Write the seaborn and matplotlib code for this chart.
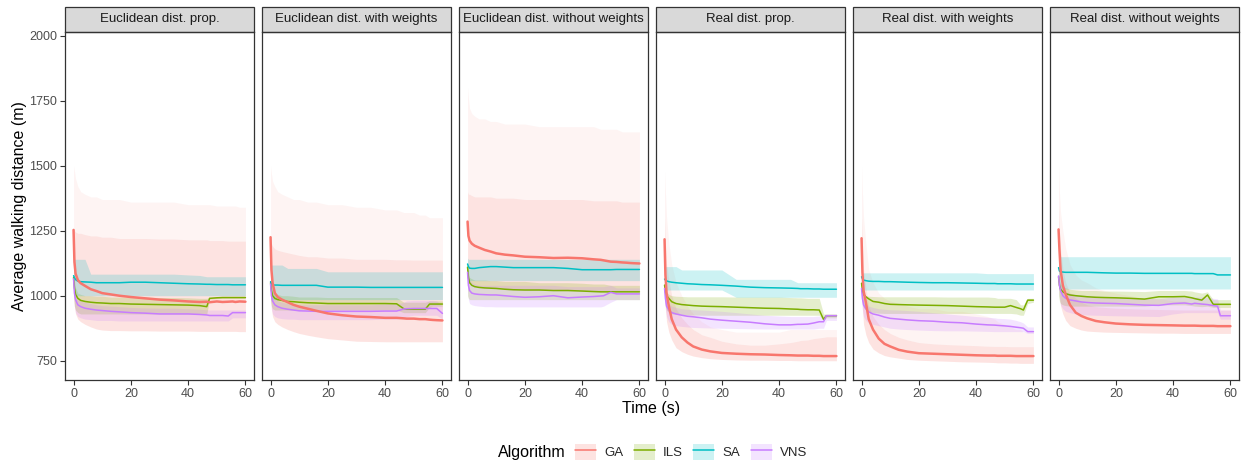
import matplotlib
matplotlib.use("Agg")
import numpy as np
import pandas as pd
import seaborn as sns
import matplotlib.pyplot as plt
from matplotlib.patches import Rectangle, Patch
from matplotlib.lines import Line2D

# ---------------- data ----------------
time_s = [0, 0.3, 0.7, 1.5, 2.5, 4, 6, 8, 10, 13, 16, 20, 25, 30, 35, 40, 44, 46.5, 47.5, 50, 52, 54, 55.5, 56.5, 58, 60]

panels = ["Euclidean dist. prop.", "Euclidean dist. with weights", "Euclidean dist. without weights",
          "Real dist. prop.", "Real dist. with weights", "Real dist. without weights"]
algorithms = ["GA", "ILS", "SA", "VNS"]
colors = ["#F8766D", "#7CAE00", "#00BFC4", "#C77CFF"]

# --- Euclidean dist. prop.
ep_ga = [1253, 1130, 1085, 1060, 1048, 1038, 1025, 1018, 1010, 1005, 1000, 995, 990, 985, 982, 978, 976, 977, 975, 978, 976, 977, 978, 976, 978, 977]
ep_ga_lo = [1000, 960, 930, 910, 900, 890, 880, 872, 868, 866, 866, 865, 865, 864, 864, 864, 863, 863, 863, 863, 863, 863, 863, 863, 862, 862]
ep_ga_hi = [1260, 1250, 1245, 1240, 1240, 1235, 1230, 1230, 1225, 1225, 1220, 1220, 1220, 1218, 1218, 1215, 1215, 1215, 1212, 1212, 1212, 1210, 1210, 1210, 1210, 1210]
ep_ga_top = [1500, 1480, 1450, 1420, 1400, 1390, 1380, 1380, 1370, 1370, 1370, 1360, 1360, 1360, 1360, 1350, 1350, 1350, 1350, 1345, 1345, 1345, 1345, 1345, 1340, 1340]
ep_ils = [1070, 1030, 1005, 990, 982, 978, 975, 973, 972, 970, 970, 968, 967, 966, 965, 964, 962, 958, 990, 992, 993, 993, 993, 993, 993, 993]
ep_ils_lo = [1000, 960, 945, 935, 930, 930, 930, 930, 930, 930, 930, 930, 930, 930, 930, 930, 930, 930, 987, 989, 990, 990, 990, 990, 990, 990]
ep_ils_hi = [1100, 1060, 1030, 1010, 1005, 1000, 1000, 998, 998, 995, 995, 995, 995, 993, 993, 992, 990, 990, 993, 995, 996, 996, 996, 996, 996, 996]
ep_sa = [1077, 1070, 1062, 1056, 1054, 1053, 1052, 1050, 1050, 1050, 1050, 1052, 1052, 1050, 1048, 1046, 1045, 1044, 1044, 1043, 1043, 1043, 1042, 1042, 1042, 1042]
ep_sa_lo = [1005, 1002, 1000, 1000, 1000, 1000, 1000, 1000, 1000, 1000, 1000, 1000, 1000, 1000, 1000, 1000, 1000, 1000, 1000, 1000, 1000, 1000, 1000, 1000, 1000, 1000]
ep_sa_hi = [1140, 1140, 1140, 1140, 1140, 1140, 1083, 1083, 1083, 1083, 1083, 1083, 1083, 1083, 1083, 1080, 1078, 1073, 1073, 1073, 1073, 1073, 1073, 1073, 1073, 1073]
ep_vns = [1065, 1010, 985, 965, 958, 952, 948, 945, 943, 940, 938, 935, 933, 930, 930, 930, 928, 926, 924, 924, 924, 922, 935, 935, 935, 935]
ep_vns_lo = [1020, 960, 935, 920, 915, 910, 908, 905, 905, 905, 903, 903, 903, 903, 903, 903, 903, 903, 903, 903, 903, 903, 915, 915, 915, 915]
ep_vns_hi = [1090, 1040, 1010, 990, 980, 975, 970, 965, 962, 960, 958, 955, 953, 952, 952, 950, 948, 946, 945, 945, 945, 945, 945, 945, 945, 945]

# --- Euclidean dist. with weights
ew_ga = [1225, 1100, 1050, 1010, 995, 985, 975, 965, 958, 950, 942, 932, 925, 920, 918, 915, 915, 913, 912, 912, 910, 910, 908, 907, 906, 905]
ew_ga_lo = [1000, 950, 920, 900, 890, 880, 870, 862, 855, 848, 842, 835, 830, 825, 824, 823, 823, 823, 823, 823, 823, 823, 823, 823, 823, 823]
ew_ga_hi = [1230, 1200, 1190, 1180, 1175, 1170, 1165, 1160, 1155, 1150, 1150, 1145, 1145, 1140, 1140, 1140, 1138, 1138, 1138, 1137, 1137, 1137, 1137, 1137, 1137, 1137]
ew_ga_top = [1500, 1470, 1440, 1420, 1400, 1390, 1380, 1370, 1370, 1360, 1360, 1350, 1350, 1340, 1340, 1330, 1330, 1320, 1320, 1320, 1310, 1310, 1300, 1300, 1300, 1300]
ew_ils = [1050, 1020, 1000, 990, 985, 982, 978, 977, 975, 973, 972, 970, 970, 970, 970, 970, 969, 950, 948, 948, 948, 948, 968, 968, 968, 968]
ew_ils_lo = [980, 960, 950, 945, 945, 945, 945, 945, 945, 945, 945, 945, 945, 945, 945, 945, 945, 935, 935, 935, 935, 935, 955, 960, 960, 960]
ew_ils_hi = [1080, 1050, 1030, 1010, 1005, 1000, 1000, 998, 995, 995, 995, 993, 993, 993, 993, 993, 993, 975, 975, 975, 975, 975, 980, 980, 980, 980]
ew_sa = [1054, 1045, 1041, 1041, 1041, 1040, 1040, 1040, 1040, 1040, 1040, 1033, 1033, 1033, 1032, 1032, 1032, 1032, 1032, 1032, 1032, 1032, 1032, 1032, 1032, 1032]
ew_sa_lo = [985, 985, 985, 985, 985, 985, 985, 985, 985, 985, 985, 985, 985, 985, 985, 985, 985, 985, 985, 985, 985, 985, 985, 985, 985, 985]
ew_sa_hi = [1118, 1118, 1118, 1118, 1118, 1118, 1105, 1105, 1105, 1105, 1105, 1092, 1092, 1092, 1092, 1092, 1092, 1092, 1092, 1092, 1092, 1092, 1092, 1092, 1092, 1092]
ew_vns = [1045, 1000, 980, 965, 958, 952, 948, 945, 942, 941, 940, 940, 940, 940, 940, 941, 941, 949, 950, 951, 951, 951, 951, 951, 951, 932]
ew_vns_lo = [1000, 950, 930, 920, 915, 912, 910, 910, 908, 908, 908, 908, 908, 908, 908, 910, 910, 915, 920, 925, 925, 925, 925, 925, 925, 910]
ew_vns_hi = [1080, 1040, 1010, 990, 980, 975, 970, 968, 965, 965, 965, 965, 965, 965, 965, 968, 968, 975, 980, 982, 982, 982, 982, 982, 980, 960]

# --- Euclidean dist. without weights
eo_ga = [1285, 1230, 1212, 1200, 1192, 1185, 1176, 1170, 1163, 1158, 1155, 1150, 1148, 1145, 1146, 1144, 1140, 1138, 1136, 1131, 1130, 1128, 1127, 1126, 1125, 1124]
eo_ga_lo = [1080, 1060, 1050, 1045, 1040, 1035, 1032, 1030, 1030, 1028, 1027, 1025, 1025, 1022, 1022, 1020, 1020, 1020, 1020, 1018, 1018, 1017, 1017, 1016, 1016, 1015]
eo_ga_hi = [1400, 1390, 1390, 1385, 1380, 1380, 1380, 1380, 1375, 1375, 1375, 1370, 1370, 1370, 1370, 1370, 1365, 1365, 1365, 1365, 1365, 1360, 1360, 1360, 1360, 1360]
eo_ga_top = [1800, 1760, 1720, 1700, 1690, 1680, 1680, 1670, 1670, 1660, 1660, 1660, 1650, 1650, 1650, 1650, 1650, 1640, 1640, 1640, 1640, 1630, 1630, 1630, 1630, 1630]
eo_ils = [1110, 1070, 1050, 1040, 1035, 1032, 1030, 1029, 1028, 1025, 1023, 1022, 1022, 1020, 1020, 1018, 1016, 1015, 1015, 1015, 1015, 1015, 1015, 1015, 1015, 1015]
eo_ils_lo = [1000, 990, 985, 985, 985, 985, 985, 985, 985, 985, 985, 985, 985, 985, 985, 985, 985, 985, 985, 985, 985, 985, 985, 985, 985, 985]
eo_ils_hi = [1120, 1090, 1070, 1065, 1060, 1060, 1060, 1058, 1058, 1055, 1055, 1055, 1050, 1050, 1050, 1048, 1045, 1045, 1045, 1040, 1040, 1040, 1040, 1040, 1040, 1040]
eo_sa = [1122, 1112, 1106, 1105, 1105, 1108, 1110, 1112, 1112, 1110, 1108, 1108, 1108, 1108, 1105, 1100, 1100, 1100, 1100, 1100, 1101, 1101, 1101, 1101, 1101, 1101]
eo_sa_lo = [1058, 1058, 1058, 1058, 1058, 1058, 1058, 1058, 1058, 1058, 1058, 1058, 1058, 1058, 1058, 1058, 1058, 1058, 1058, 1058, 1058, 1058, 1058, 1058, 1058, 1058]
eo_sa_hi = [1145, 1140, 1140, 1140, 1140, 1140, 1140, 1140, 1140, 1140, 1140, 1140, 1140, 1140, 1140, 1140, 1140, 1140, 1140, 1140, 1140, 1140, 1140, 1140, 1140, 1140]
eo_vns = [1090, 1040, 1020, 1010, 1007, 1005, 1004, 1003, 1003, 1000, 997, 994, 996, 1000, 992, 995, 997, 999, 1000, 1013, 1007, 1007, 1007, 1007, 1007, 1007]
eo_vns_lo = [1020, 985, 970, 965, 962, 960, 958, 958, 957, 957, 957, 957, 957, 957, 957, 957, 957, 957, 960, 975, 985, 985, 985, 985, 985, 985]
eo_vns_hi = [1120, 1080, 1060, 1050, 1045, 1040, 1040, 1040, 1040, 1040, 1040, 1040, 1040, 1040, 1035, 1035, 1035, 1035, 1035, 1040, 1030, 1030, 1030, 1030, 1030, 1030]

# --- Real dist. prop.
rp_ga = [1217, 1080, 1010, 960, 910, 870, 840, 820, 805, 793, 786, 780, 777, 775, 774, 772, 771, 770, 770, 770, 769, 769, 768, 768, 768, 768]
rp_ga_lo = [1050, 950, 900, 860, 830, 800, 785, 775, 768, 762, 758, 755, 753, 752, 752, 751, 751, 750, 750, 750, 750, 750, 750, 750, 750, 750]
rp_ga_hi = [1300, 1200, 1120, 1060, 1000, 950, 915, 890, 870, 850, 840, 825, 815, 810, 810, 815, 820, 825, 828, 830, 835, 838, 840, 842, 842, 842]
rp_ga_top = [1480, 1400, 1300, 1200, 1120, 1050, 1000, 960, 930, 900, 880, 870, 860, 860, 860, 860, 870, 870, 870, 870, 870, 870, 870, 870, 870, 870]
rp_ils = [1041, 1015, 1000, 990, 977, 970, 966, 964, 962, 960, 959, 958, 956, 954, 952, 951, 949, 948, 947, 946, 946, 945, 909, 923, 923, 923]
rp_ils_lo = [990, 960, 945, 935, 930, 928, 927, 926, 926, 925, 925, 925, 925, 925, 925, 925, 925, 925, 925, 925, 925, 925, 905, 915, 915, 915]
rp_ils_hi = [1060, 1030, 1015, 1005, 1000, 998, 997, 996, 996, 996, 996, 996, 995, 995, 995, 995, 993, 992, 992, 990, 990, 990, 930, 930, 930, 930]
rp_sa = [1064, 1060, 1057, 1054, 1052, 1050, 1048, 1046, 1045, 1043, 1042, 1040, 1037, 1033, 1031, 1030, 1029, 1028, 1027, 1027, 1026, 1026, 1025, 1025, 1025, 1025]
rp_sa_lo = [1022, 1022, 1022, 1022, 1022, 1022, 1022, 1022, 1022, 1022, 1022, 1022, 994, 994, 994, 994, 994, 994, 994, 994, 994, 994, 994, 994, 994, 994]
rp_sa_hi = [1112, 1112, 1112, 1112, 1112, 1112, 1099, 1099, 1099, 1099, 1099, 1099, 1063, 1063, 1063, 1063, 1063, 1050, 1050, 1050, 1050, 1050, 1050, 1050, 1050, 1050]
rp_vns = [1028, 990, 960, 945, 935, 930, 925, 921, 919, 915, 910, 906, 902, 898, 892, 888, 888, 890, 890, 891, 895, 900, 900, 923, 923, 923]
rp_vns_lo = [990, 950, 920, 900, 890, 885, 882, 880, 878, 877, 876, 875, 874, 873, 872, 872, 872, 872, 872, 872, 872, 875, 875, 905, 905, 905]
rp_vns_hi = [1050, 1010, 985, 970, 960, 955, 950, 948, 946, 945, 943, 940, 935, 930, 925, 922, 920, 920, 920, 920, 920, 922, 922, 930, 930, 930]

# --- Real dist. with weights
rw_ga = [1221, 1090, 1020, 975, 910, 870, 835, 815, 805, 792, 785, 779, 777, 775, 773, 771, 770, 770, 769, 769, 769, 768, 768, 768, 768, 768]
rw_ga_lo = [1050, 950, 890, 850, 820, 795, 780, 770, 765, 760, 755, 752, 750, 748, 746, 745, 744, 743, 742, 742, 741, 741, 740, 740, 740, 740]
rw_ga_hi = [1300, 1200, 1100, 1030, 960, 920, 890, 870, 855, 840, 830, 820, 815, 812, 810, 808, 806, 805, 805, 805, 804, 804, 804, 804, 804, 804]
rw_ga_top = [1500, 1400, 1300, 1200, 1100, 1050, 1010, 990, 980, 970, 960, 950, 950, 940, 940, 930, 920, 910, 900, 890, 880, 870, 870, 860, 860, 860]
rw_ils = [1048, 1020, 1005, 996, 988, 978, 975, 970, 967, 966, 965, 964, 963, 962, 960, 958, 957, 956, 956, 956, 962, 955, 950, 945, 983, 983]
rw_ils_lo = [1000, 970, 955, 945, 940, 935, 933, 932, 932, 932, 932, 932, 932, 932, 932, 932, 932, 932, 932, 932, 932, 930, 925, 925, 970, 975]
rw_ils_hi = [1060, 1030, 1010, 1000, 998, 997, 996, 996, 996, 996, 996, 996, 996, 995, 995, 995, 995, 993, 990, 990, 990, 985, 965, 965, 990, 990]
rw_sa = [1073, 1065, 1060, 1058, 1056, 1055, 1055, 1054, 1054, 1053, 1052, 1051, 1050, 1050, 1049, 1048, 1047, 1047, 1046, 1046, 1046, 1045, 1045, 1045, 1045, 1045]
rw_sa_lo = [1022, 1022, 1022, 1022, 1022, 1022, 1022, 1022, 1022, 1022, 1022, 1022, 1022, 1022, 1022, 1022, 1022, 1022, 1022, 1022, 1022, 1022, 1022, 1022, 1022, 1022]
rw_sa_hi = [1090, 1088, 1088, 1088, 1088, 1088, 1088, 1088, 1088, 1088, 1088, 1088, 1088, 1088, 1088, 1088, 1085, 1085, 1085, 1085, 1085, 1085, 1085, 1085, 1085, 1085]
rw_vns = [1028, 990, 965, 950, 938, 930, 925, 918, 913, 910, 907, 904, 902, 898, 896, 891, 888, 887, 886, 884, 882, 879, 877, 875, 862, 862]
rw_vns_lo = [990, 945, 920, 905, 895, 890, 885, 880, 875, 872, 870, 868, 866, 865, 865, 864, 863, 862, 862, 862, 862, 862, 862, 862, 855, 855]
rw_vns_hi = [1060, 1010, 985, 970, 960, 955, 950, 948, 946, 945, 943, 940, 935, 930, 925, 920, 917, 915, 913, 912, 910, 905, 900, 895, 880, 880]

# --- Real dist. without weights
ro_ga = [1255, 1180, 1100, 1040, 1005, 965, 935, 922, 913, 903, 898, 893, 890, 888, 887, 886, 885, 885, 885, 884, 884, 884, 883, 883, 883, 883]
ro_ga_lo = [1080, 1000, 960, 930, 905, 885, 875, 868, 864, 862, 860, 859, 858, 857, 856, 856, 855, 855, 855, 855, 855, 855, 855, 855, 855, 855]
ro_ga_hi = [1350, 1250, 1180, 1100, 1050, 1010, 990, 975, 965, 958, 955, 952, 950, 948, 947, 946, 945, 945, 945, 945, 945, 945, 945, 945, 945, 945]
ro_ga_top = [1500, 1400, 1320, 1250, 1180, 1120, 1080, 1060, 1050, 1030, 1020, 1010, 1000, 990, 990, 980, 980, 970, 970, 970, 970, 970, 970, 970, 970, 970]
ro_ils = [1073, 1040, 1025, 1015, 1008, 1003, 1000, 998, 996, 994, 993, 992, 990, 987, 996, 996, 997, 992, 989, 983, 1003, 967, 967, 967, 967, 967]
ro_ils_lo = [1000, 980, 970, 965, 962, 960, 960, 960, 960, 960, 960, 960, 960, 960, 965, 965, 965, 962, 960, 958, 960, 955, 955, 955, 955, 955]
ro_ils_hi = [1100, 1060, 1045, 1035, 1030, 1025, 1022, 1020, 1020, 1020, 1018, 1018, 1017, 1016, 1020, 1020, 1020, 1018, 1015, 1010, 1015, 985, 985, 985, 985, 985]
ro_sa = [1108, 1095, 1092, 1091, 1090, 1090, 1090, 1090, 1090, 1089, 1088, 1087, 1087, 1086, 1086, 1086, 1086, 1086, 1085, 1085, 1085, 1085, 1080, 1080, 1080, 1080]
ro_sa_lo = [1030, 1026, 1026, 1026, 1026, 1026, 1026, 1026, 1026, 1026, 1026, 1026, 1026, 1026, 1026, 1026, 1026, 1026, 1026, 1026, 1026, 1026, 1026, 1026, 1026, 1026]
ro_sa_hi = [1160, 1150, 1150, 1150, 1150, 1150, 1150, 1150, 1150, 1150, 1150, 1150, 1150, 1150, 1150, 1150, 1150, 1150, 1150, 1150, 1150, 1150, 1150, 1150, 1150, 1150]
ro_vns = [1076, 1040, 1020, 1000, 990, 984, 980, 976, 974, 972, 971, 970, 967, 964, 963, 970, 972, 968, 971, 968, 966, 962, 960, 923, 923, 923]
ro_vns_lo = [1030, 990, 965, 950, 940, 935, 930, 928, 926, 925, 924, 923, 922, 921, 920, 930, 935, 935, 935, 935, 935, 935, 935, 910, 910, 910]
ro_vns_hi = [1100, 1060, 1040, 1025, 1015, 1010, 1005, 1003, 1000, 998, 997, 995, 993, 990, 988, 995, 995, 995, 995, 995, 993, 990, 988, 945, 945, 945]

y_ticks = [750, 1000, 1250, 1500, 1750, 2000]
x_ticks = [0, 20, 40, 60]

# ---------------- assemble long-form data ----------------
series = {
    panels[0]: {"GA": (ep_ga, ep_ga_lo, ep_ga_hi, ep_ga_top), "ILS": (ep_ils, ep_ils_lo, ep_ils_hi),
                "SA": (ep_sa, ep_sa_lo, ep_sa_hi), "VNS": (ep_vns, ep_vns_lo, ep_vns_hi)},
    panels[1]: {"GA": (ew_ga, ew_ga_lo, ew_ga_hi, ew_ga_top), "ILS": (ew_ils, ew_ils_lo, ew_ils_hi),
                "SA": (ew_sa, ew_sa_lo, ew_sa_hi), "VNS": (ew_vns, ew_vns_lo, ew_vns_hi)},
    panels[2]: {"GA": (eo_ga, eo_ga_lo, eo_ga_hi, eo_ga_top), "ILS": (eo_ils, eo_ils_lo, eo_ils_hi),
                "SA": (eo_sa, eo_sa_lo, eo_sa_hi), "VNS": (eo_vns, eo_vns_lo, eo_vns_hi)},
    panels[3]: {"GA": (rp_ga, rp_ga_lo, rp_ga_hi, rp_ga_top), "ILS": (rp_ils, rp_ils_lo, rp_ils_hi),
                "SA": (rp_sa, rp_sa_lo, rp_sa_hi), "VNS": (rp_vns, rp_vns_lo, rp_vns_hi)},
    panels[4]: {"GA": (rw_ga, rw_ga_lo, rw_ga_hi, rw_ga_top), "ILS": (rw_ils, rw_ils_lo, rw_ils_hi),
                "SA": (rw_sa, rw_sa_lo, rw_sa_hi), "VNS": (rw_vns, rw_vns_lo, rw_vns_hi)},
    panels[5]: {"GA": (ro_ga, ro_ga_lo, ro_ga_hi, ro_ga_top), "ILS": (ro_ils, ro_ils_lo, ro_ils_hi),
                "SA": (ro_sa, ro_sa_lo, ro_sa_hi), "VNS": (ro_vns, ro_vns_lo, ro_vns_hi)},
}

rows = []
for p in panels:
    for a in algorithms:
        vals = series[p][a]
        for i, t in enumerate(time_s):
            rows.append({"panel": p, "Algorithm": a, "time": t, "dist": vals[0][i],
                         "lo": vals[1][i], "hi": vals[2][i],
                         "top": vals[3][i] if len(vals) > 3 else np.nan})
df = pd.DataFrame(rows)

# ---------------- plotting ----------------
sns.set_theme(style="white")
plt.rcParams["font.family"] = ["Liberation Sans", "DejaVu Sans"]

palette = dict(zip(algorithms, colors))
TICK_C = "#4D4D4D"
EDGE_C = "#333333"

fig, axes = plt.subplots(1, 6, figsize=(12.47, 4.65), dpi=100, sharey=True)
fig.subplots_adjust(left=0.0521, right=0.9936, top=0.9312, bottom=0.1828, wspace=0.042)

for ax, p in zip(axes, panels):
    d = df[df["panel"] == p]
    # ribbons
    for a in algorithms:
        s = d[d["Algorithm"] == a]
        ax.fill_between(s["time"], s["lo"], s["hi"], color=palette[a], alpha=0.2, lw=0)
        if a == "GA":
            ax.fill_between(s["time"], s["hi"], s["top"], color=palette[a], alpha=0.08, lw=0)
    # lines
    sns.lineplot(data=d[d["Algorithm"] != "GA"], x="time", y="dist", hue="Algorithm",
                 palette=palette, hue_order=["ILS", "SA", "VNS"], ax=ax, legend=False,
                 linewidth=1.1, estimator=None)
    sns.lineplot(data=d[d["Algorithm"] == "GA"], x="time", y="dist", color=palette["GA"],
                 ax=ax, legend=False, linewidth=1.8, estimator=None)

    ax.set_xlim(-3, 63)
    ax.set_ylim(676, 2014)
    ax.set_xticks(x_ticks)
    ax.set_yticks(y_ticks)
    ax.set_xlabel("")
    ax.set_ylabel("")
    for sp in ax.spines.values():
        sp.set_color(EDGE_C)
        sp.set_linewidth(0.9)
    ax.tick_params(axis="both", which="both", length=3.5, width=0.8, color=EDGE_C,
                   labelcolor=TICK_C, labelsize=9, pad=2, direction="out",
                   bottom=True, left=True)
    ax.grid(False)
    # facet strip
    strip_h = 25 / 348
    ax.add_patch(Rectangle((0, 1), 1, strip_h, transform=ax.transAxes, clip_on=False,
                           facecolor="#D9D9D9", edgecolor=EDGE_C, linewidth=0.9))
    ax.text(0.5, 1 + strip_h / 2, p, transform=ax.transAxes, ha="center", va="center",
            fontsize=9.5, color="#1A1A1A")

for ax in axes[1:]:
    ax.tick_params(axis="y", left=False, labelleft=False)

fig.text(0.0155, (0.9312 + 0.1828) / 2, "Average walking distance (m)", rotation=90,
         ha="center", va="center", fontsize=11.5, color="black")
fig.text(0.522, 1 - 409 / 465, "Time (s)", ha="center", va="center", fontsize=11.5, color="black")

# legend
fig.text(498 / 1247, 1 - 452 / 465, "Algorithm", ha="left", va="center", fontsize=11.5, color="black")
handles = [(Patch(facecolor=palette[a], alpha=0.2, edgecolor="none"),
            Line2D([], [], color=palette[a], lw=1.1)) for a in algorithms]
fig.legend(handles, algorithms, loc="center left", bbox_to_anchor=(575 / 1247, 1 - 452 / 465),
           ncol=4, frameon=False, fontsize=9.5, handlelength=1.6, handleheight=1.6,
           handletextpad=0.6, columnspacing=0.8, borderpad=0, borderaxespad=0)

fig.savefig("out.png", dpi=100)
